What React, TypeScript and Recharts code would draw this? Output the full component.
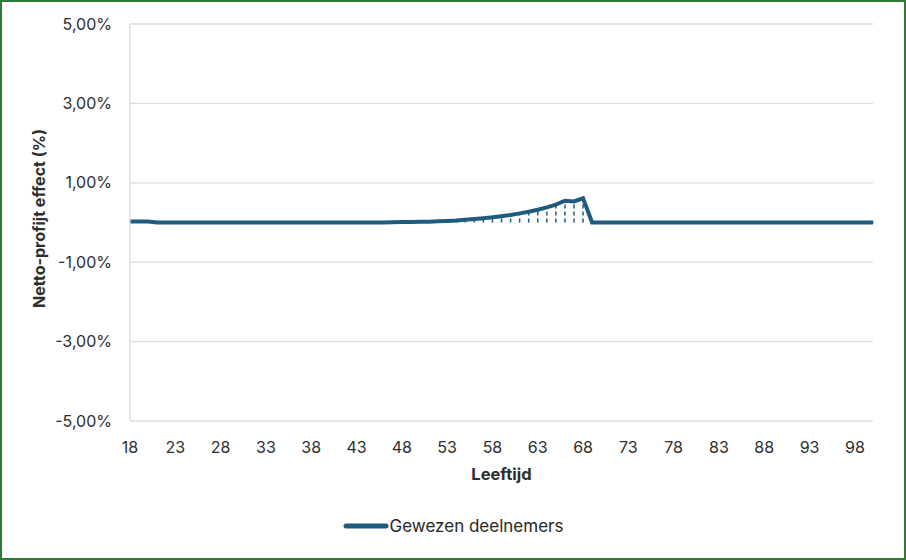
import React from "react";
import { LineChart, Line, XAxis, YAxis, CartesianGrid, Legend, ErrorBar } from "recharts";

// Leeftijden 18 t/m 100
const ages = [
  18, 19, 20, 21, 22, 23, 24, 25, 26, 27, 28, 29, 30, 31, 32, 33, 34, 35, 36, 37, 38,
  39, 40, 41, 42, 43, 44, 45, 46, 47, 48, 49, 50, 51, 52, 53, 54, 55, 56, 57, 58, 59,
  60, 61, 62, 63, 64, 65, 66, 67, 68, 69, 70, 71, 72, 73, 74, 75, 76, 77, 78, 79, 80,
  81, 82, 83, 84, 85, 86, 87, 88, 89, 90, 91, 92, 93, 94, 95, 96, 97, 98, 99, 100,
];

// Netto-profijt effect in %, gewezen deelnemers
const gewezen = [
  0.025, 0.025, 0.025, 0, 0, 0, 0, 0, 0, 0, 0, 0, 0, 0, 0, 0, 0, 0, 0, 0, 0,
  0, 0, 0, 0, 0, 0, 0, 0, 0.005, 0.01, 0.01, 0.02, 0.02, 0.03, 0.04, 0.05, 0.07, 0.09, 0.11, 0.13, 0.16,
  0.19, 0.23, 0.27, 0.32, 0.38, 0.45, 0.55, 0.53, 0.61, 0, 0, 0, 0, 0, 0, 0, 0, 0, 0, 0, 0,
  0, 0, 0, 0, 0, 0, 0, 0, 0, 0, 0, 0, 0, 0, 0, 0, 0, 0, 0, 0,
];

const yTicks = [-5, -3, -1, 1, 3, 5];
const seriesName = "Gewezen deelnemers";

const LINE = "#1F5B7E";
const GRID = "#D6DDE4";
const TEXT = "#2E2E2E";
const FONT = "Inter, 'Liberation Sans', sans-serif";

// drop lines: error bar from the point down to 0
const data = ages.map((age, i) => ({
  age,
  value: gewezen[i],
  drop: [gewezen[i], 0],
}));

const pct = (v: number) => `${v.toFixed(2).replace(".", ",")}%`;

function LegendContent({ payload }: any) {
  return (
    <div style={{ display: "flex", justifyContent: "center", alignItems: "center", fontFamily: FONT }}>
      {(payload || []).map((p: any) => (
        <div key={p.value} style={{ display: "flex", alignItems: "center" }}>
          <svg width={46} height={10}>
            <line x1={3} y1={5} x2={43} y2={5} stroke={p.color} strokeWidth={5} strokeLinecap="round" />
          </svg>
          <span style={{ fontSize: 17, color: "#262626", marginLeft: 1 }}>{p.value}</span>
        </div>
      ))}
    </div>
  );
}

export default function App() {
  return (
    <div style={{ position: "relative", width: 906, height: 560, background: "#fff" }}>
      <style>{`body{margin:0}`}</style>
      <LineChart
        width={906}
        height={560}
        data={data}
        margin={{ top: 24, right: 33, left: 0, bottom: 69 }}
        style={{ fontFamily: FONT }}
      >
        <CartesianGrid vertical={false} stroke={GRID} strokeWidth={1.3} />
        <XAxis
          dataKey="age"
          interval={4}
          axisLine={false}
          tickLine={false}
          tickSize={0}
          tickMargin={21}
          height={70}
          tick={{ fill: TEXT, fontSize: 16 }}
          label={{
            value: "Leeftijd",
            position: "insideTop",
            offset: 47,
            style: { fill: TEXT, fontSize: 16.5, fontWeight: 700 },
          }}
        />
        <YAxis
          width={130}
          domain={[-5, 5]}
          ticks={yTicks}
          tickFormatter={pct}
          axisLine={{ stroke: GRID, strokeWidth: 1.3 }}
          tickLine={false}
          tickSize={0}
          tickMargin={18}
          tick={{ fill: TEXT, fontSize: 16 }}
          label={{
            value: "Netto-profijt effect (%)",
            angle: -90,
            position: "insideLeft",
            offset: 39,
            dy: -4,
            style: { textAnchor: "middle", fill: TEXT, fontSize: 16, fontWeight: 700 },
          }}
        />
        <Legend
          verticalAlign="middle"
          align="center"
          wrapperStyle={{ top: 516, left: 0, width: 906 }}
          content={<LegendContent />}
        />
        <Line
          type="linear"
          dataKey="value"
          name={seriesName}
          stroke={LINE}
          strokeWidth={4}
          dot={false}
          activeDot={false}
          isAnimationActive={false}
        >
          <ErrorBar
            dataKey="drop"
            direction="y"
            width={0}
            stroke={LINE}
            strokeWidth={1.5}
            strokeDasharray="4 3"
            isAnimationActive={false}
          />
        </Line>
      </LineChart>
      <div
        style={{
          position: "absolute",
          inset: 0,
          border: "2px solid #2F7A35",
          pointerEvents: "none",
        }}
      />
    </div>
  );
}
